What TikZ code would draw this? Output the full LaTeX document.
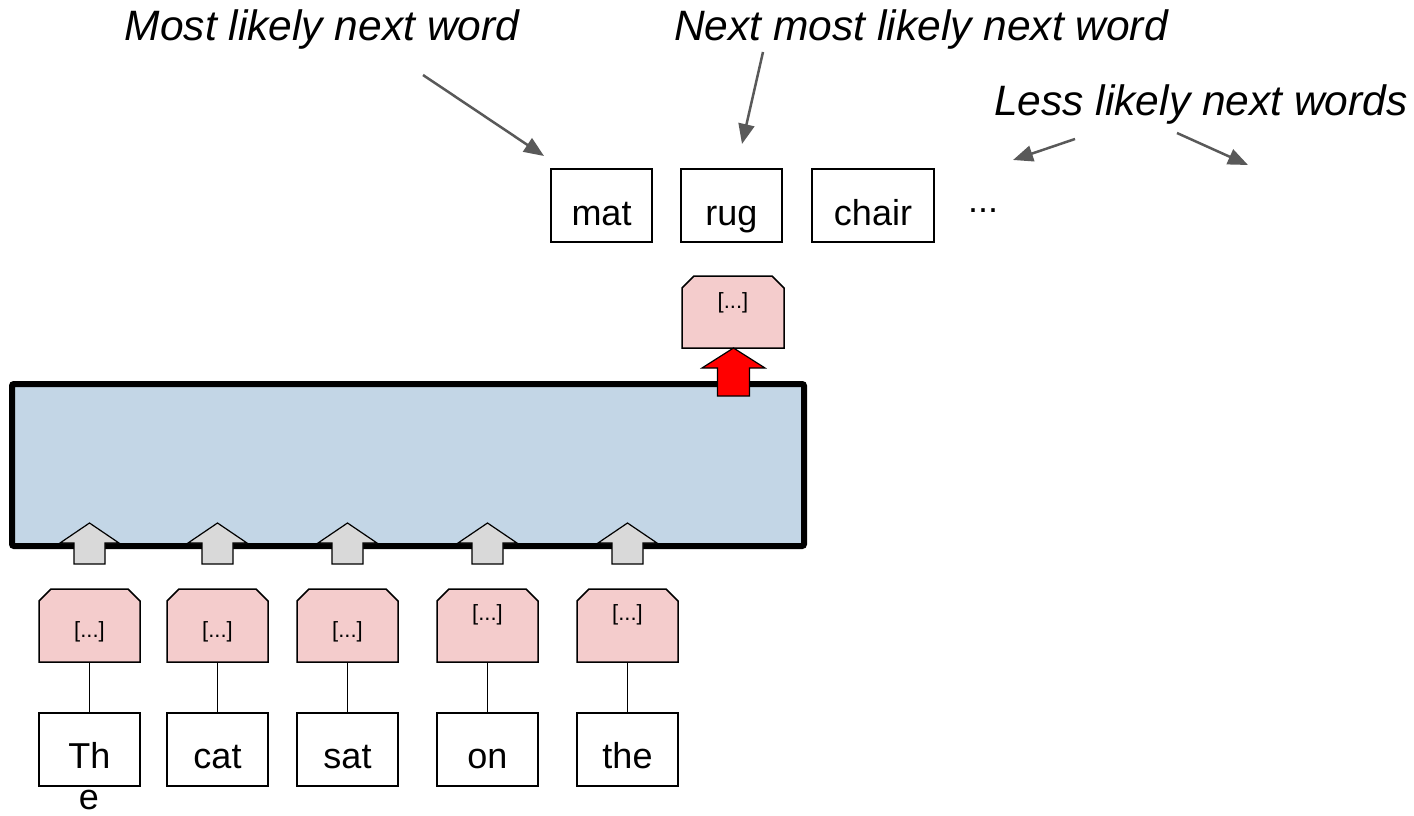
\documentclass[tikz,border=0pt]{standalone}
\usepackage{fontspec}
\setmainfont{Liberation Sans}
\usetikzlibrary{arrows.meta}
\definecolor{pinkf}{RGB}{244,204,204}
\definecolor{bluef}{RGB}{195,214,230}
\definecolor{greyf}{RGB}{217,217,217}
\definecolor{darrow}{RGB}{89,89,89}
\newcommand{\chamferbox}[1]{%
  \draw[draw=black,line width=1.5pt,fill=pinkf,line join=miter]
    (#1.south west) -- ([yshift=-12pt]#1.north west) -- ([xshift=12pt]#1.north west)
    -- ([xshift=-12pt]#1.north east) -- ([yshift=-12pt]#1.north east) -- (#1.south east) -- cycle;}
\begin{document}
\begin{tikzpicture}[x=1pt,y=-1pt,
 wordbox/.style={draw=black,line width=1.5pt,fill=white,minimum height=73pt,inner sep=0pt},
 ctxbox/.style={rectangle,draw=none,outer sep=0pt,minimum width=101pt,minimum height=73pt,inner sep=0pt},
 wtext/.style={anchor=base,inner sep=0pt,font=\fontsize{36}{40}\selectfont},
 ctext/.style={anchor=base,inner sep=0pt,font=\fontsize{22}{26}\selectfont},
 lbl/.style={anchor=base,inner sep=0pt,font=\fontsize{42.5}{48}\selectfont\itshape},
 pointer/.style={draw=darrow,line width=2.5pt,-{Triangle[length=20pt,width=16pt]}},
 uparrow/.style={draw=black,line width=1.2pt,fill=greyf},
 redarrow/.style={draw=black,line width=1.2pt,fill=red},
 link/.style={draw=black,line width=1.5pt},
]
\useasboundingbox (0,0) rectangle (1414,816);

% encoder block
\node[draw=black,line width=6pt,fill=bluef,rounded corners=2pt,minimum width=792pt,minimum height=162pt,inner sep=0pt] (enc) at (408,465) {};

% input words
\foreach \i/\cx/\w/\cy in {1/89.5/Th/633, 2/217.5/cat/633, 3/347.5/sat/633, 4/487.5/on/616, 5/627.5/the/616}{
  \node[wordbox,minimum width=101pt] (w\i) at (\cx,749.5) {};
  \node[wtext] (wt\i) at (\cx,768) {\w};
  \node[ctxbox] (p\i) at (\cx,625.5) {};
  \chamferbox{p\i}
  \node[ctext] (pt\i) at (\cx,\cy+4) {[...]};
  \draw[link] (p\i.south) -- (w\i.north);
  \draw[uparrow] (\cx-15.5,564) -- (\cx-15.5,543) -- (\cx-29.5,543) -- (\cx,523)
     -- (\cx+29.5,543) -- (\cx+15.5,543) -- (\cx+15.5,564) -- cycle;
}
\node[wtext] (e) at (89,809) {e};

% output context box and red arrow
\node[ctxbox,minimum width=102pt,minimum height=72pt] (pout) at (733,312) {};
\chamferbox{pout}
\node[ctext] (ptout) at (733,308) {[...]};
\draw[redarrow] (717.5,396) -- (717.5,368) -- (702,368) -- (733.5,348)
   -- (765,368) -- (749.5,368) -- (749.5,396) -- cycle;

% candidate next words
\node[wordbox,minimum width=101pt] (mat) at (601.5,205.5) {};
\node[wtext] at (601.5,225) {mat};
\node[wordbox,minimum width=101pt] (rug) at (731.5,205.5) {};
\node[wtext] at (731.5,225) {rug};
\node[wordbox,minimum width=122pt] (chair) at (873,205.5) {};
\node[wtext] at (873,225) {chair};
\node[wtext] (dots) at (983,212) {...};

% labels
\node[lbl] (l1) at (322,41) {Most likely next word};
\node[lbl] (l2) at (921,41) {Next most likely next word};
\node[lbl] (l3) at (1201,115) {Less likely next words};

\coordinate (a1s) at (423,75);  \coordinate (a1e) at (544,156);
\coordinate (a2s) at (763,52);  \coordinate (a2e) at (742,144);
\coordinate (a3s) at (1075,139); \coordinate (a3e) at (1013,160);
\coordinate (a4s) at (1177,133); \coordinate (a4e) at (1248,165);
\draw[pointer] (a1s) -- (a1e);
\draw[pointer] (a2s) -- (a2e);
\draw[pointer] (a3s) -- (a3e);
\draw[pointer] (a4s) -- (a4e);
\end{tikzpicture}
\end{document}
